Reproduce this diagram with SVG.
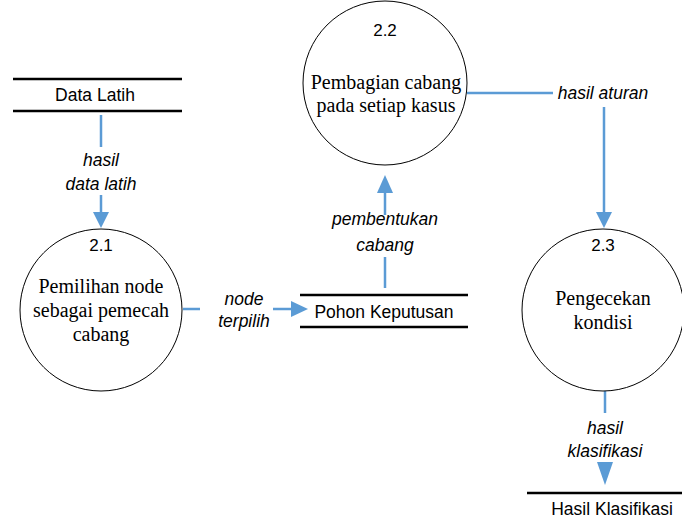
<svg xmlns="http://www.w3.org/2000/svg" width="682" height="522" viewBox="0 0 682 522">
<style>
.proc{fill:#fff;stroke:#000;stroke-width:1}
.store{stroke:#000;stroke-width:2.5}
.flow{stroke:#5B9BD5;stroke-width:2.5;fill:none}
.head{fill:#5B9BD5}
.num{font-family:"Liberation Sans",Arial,sans-serif;font-size:17px;text-anchor:middle;fill:#000}
.ptxt{font-family:"Liberation Serif","Times New Roman",serif;font-size:20px;text-anchor:middle;fill:#000}
.stxt{font-family:"Liberation Sans",Arial,sans-serif;font-size:17.5px;text-anchor:middle;fill:#000}
.lbl{font-family:"Liberation Sans",Arial,sans-serif;font-size:17.5px;font-style:italic;text-anchor:middle;fill:#000}
</style>
<rect width="682" height="522" fill="#fff"/>
<g id="connectors">
  <line class="flow" x1="101" y1="115" x2="101" y2="147"/>
  <line class="flow" x1="101" y1="195" x2="101" y2="213"/>
  <polygon class="head" points="93,212 109,212 101,228"/>
  <line class="flow" x1="183" y1="309" x2="200" y2="309"/>
  <line class="flow" x1="273" y1="309" x2="292" y2="309"/>
  <polygon class="head" points="291,301 291,317 308,309"/>
  <line class="flow" x1="385" y1="288" x2="385" y2="257"/>
  <line class="flow" x1="385" y1="215" x2="385" y2="192"/>
  <polygon class="head" points="377,193 393,193 385,175"/>
  <line class="flow" x1="467" y1="93" x2="553" y2="93"/>
  <line class="flow" x1="604" y1="107" x2="604" y2="213"/>
  <polygon class="head" points="596,212 612,212 604,228"/>
  <line class="flow" x1="605" y1="391" x2="605" y2="413"/>
  <polygon class="head" points="597,462 613,462 605,485"/>
  <text class="lbl" x="101" y="166">hasil</text>
  <text class="lbl" x="101" y="190">data latih</text>
  <text class="lbl" x="244" y="305">node</text>
  <text class="lbl" x="244" y="327">terpilih</text>
  <text class="lbl" x="385" y="225">pembentukan</text>
  <text class="lbl" x="385" y="251">cabang</text>
  <text class="lbl" x="603" y="99">hasil aturan</text>
  <text class="lbl" x="605" y="434">hasil</text>
  <text class="lbl" x="605" y="457">klasifikasi</text>
</g>
<g id="store-data-latih">
  <line class="store" x1="13" y1="79" x2="182" y2="79"/>
  <line class="store" x1="13" y1="111" x2="182" y2="111"/>
  <text class="stxt" x="95" y="101">Data Latih</text>
</g>
<g id="proc-2-1">
  <circle class="proc" cx="101" cy="310" r="81"/>
  <text class="num" x="101" y="251">2.1</text>
  <text class="ptxt" x="101" y="293">Pemilihan node</text>
  <text class="ptxt" x="101" y="317">sebagai pemecah</text>
  <text class="ptxt" x="101" y="341">cabang</text>
</g>
<g id="proc-2-2">
  <circle class="proc" cx="385" cy="83" r="82"/>
  <text class="num" x="385" y="36">2.2</text>
  <text class="ptxt" x="386" y="89">Pembagian cabang</text>
  <text class="ptxt" x="386" y="112">pada setiap kasus</text>
</g>
<g id="store-pohon">
  <line class="store" x1="300" y1="295" x2="468" y2="295"/>
  <line class="store" x1="300" y1="327" x2="468" y2="327"/>
  <text class="stxt" x="384" y="318">Pohon Keputusan</text>
</g>
<g id="proc-2-3">
  <circle class="proc" cx="603" cy="310" r="81"/>
  <text class="num" x="603" y="251">2.3</text>
  <text class="ptxt" x="603" y="305">Pengecekan</text>
  <text class="ptxt" x="603" y="329">kondisi</text>
</g>
<g id="store-hasil">
  <line class="store" x1="527" y1="493" x2="682" y2="493"/>
  <text class="stxt" x="612" y="515">Hasil Klasifikasi</text>
</g>
</svg>
